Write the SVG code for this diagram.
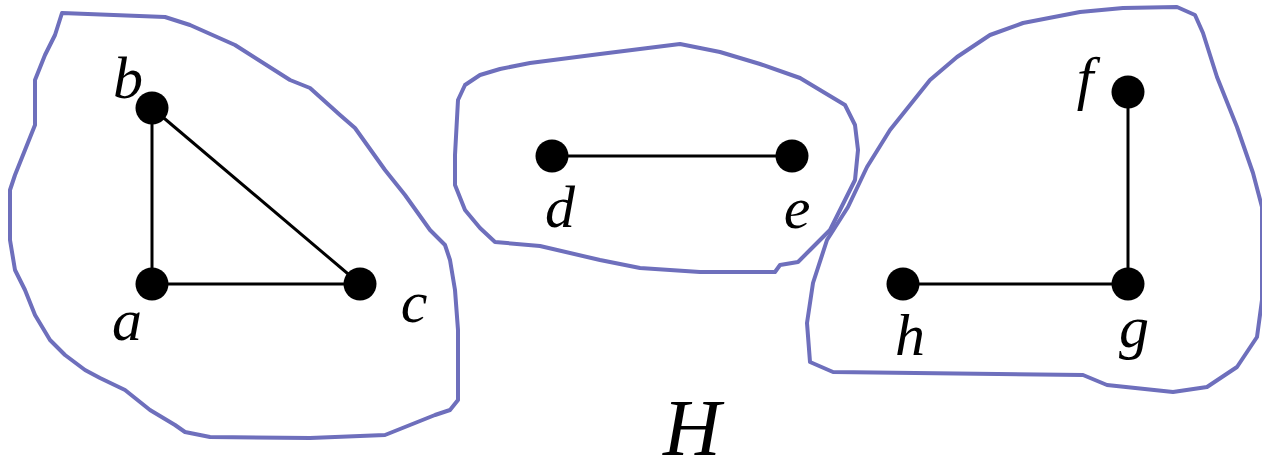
<svg xmlns="http://www.w3.org/2000/svg" width="1262" height="461" viewBox="0 0 1262 461">
<style>
.blob{fill:none;stroke:#6e6fbc;stroke-width:4;stroke-linejoin:round;stroke-linecap:round}
.edge{stroke:#000;stroke-width:3}
.node{fill:#000}
</style>
<rect width="1262" height="461" fill="#fff"/>
<g id="components">
<path class="blob" d="M62,13 L165,17 L190,25 L235,45 L290,80 L310,88 L340,115 L355,128 L385,170 L405,195 L430,230 L445,245 L450,260 L455,290 L458,330 L458,400 L450,410 L435,415 L410,425 L385,435 L310,438 L210,437 L185,432 L175,425 L150,410 L125,390 L100,378 L85,370 L65,355 L50,340 L35,315 L25,290 L15,270 L10,240 L10,190 L15,175 L25,150 L35,125 L35,80 L45,55 L55,35 Z"/>
<path class="blob" d="M480,75 L500,69 L530,63 L600,54 L680,44 L720,52 L760,64 L800,78 L820,90 L845,105 L855,125 L858,150 L855,180 L840,210 L830,230 L810,250 L798,262 L780,265 L775,272 L700,272 L640,268 L600,260 L540,246 L495,242 L480,228 L465,210 L455,185 L455,155 L458,100 L465,85 Z"/>
<path class="blob" d="M1177,7 L1195,15 L1203,33 L1217,77 L1237,127 L1253,173 L1262,207 L1262,300 L1257,337 L1237,367 L1207,387 L1173,392 L1107,385 L1083,375 L833,372 L810,362 L807,323 L813,283 L827,240 L848,207 L867,167 L890,130 L930,80 L957,57 L990,35 L1023,23 L1080,12 L1123,8 Z"/>
</g>
<g id="connectors">
<line class="edge" x1="152" y1="108" x2="152" y2="284"/>
<line class="edge" x1="152" y1="108" x2="360" y2="284"/>
<line class="edge" x1="152" y1="284" x2="360" y2="284"/>
<line class="edge" x1="552" y1="156" x2="792" y2="156"/>
<line class="edge" x1="1128" y1="92" x2="1128" y2="284"/>
<line class="edge" x1="903" y1="284" x2="1128" y2="284"/>
</g>
<g font-family="Liberation Serif" font-style="italic" font-size="60" fill="#000" text-anchor="middle">
<g id="node-a"><circle class="node" cx="152" cy="284" r="16.5"/><text x="127" y="340">a</text></g>
<g id="node-b"><circle class="node" cx="152" cy="108" r="16.5"/><text x="128" y="98">b</text></g>
<g id="node-c"><circle class="node" cx="360" cy="284" r="16.5"/><text x="414" y="322">c</text></g>
<g id="node-d"><circle class="node" cx="552" cy="156" r="16.5"/><text x="560" y="227">d</text></g>
<g id="node-e"><circle class="node" cx="792" cy="156" r="16.5"/><text x="797" y="228">e</text></g>
<g id="node-f"><circle class="node" cx="1128" cy="92" r="16.5"/><text x="1085" y="98">f</text></g>
<g id="node-g"><circle class="node" cx="1128" cy="284" r="16.5"/><text x="1134" y="347">g</text></g>
<g id="node-h"><circle class="node" cx="903" cy="284" r="16.5"/><text x="910" y="355">h</text></g>
<text x="692" y="455" font-size="80">H</text>
</g>
</svg>
